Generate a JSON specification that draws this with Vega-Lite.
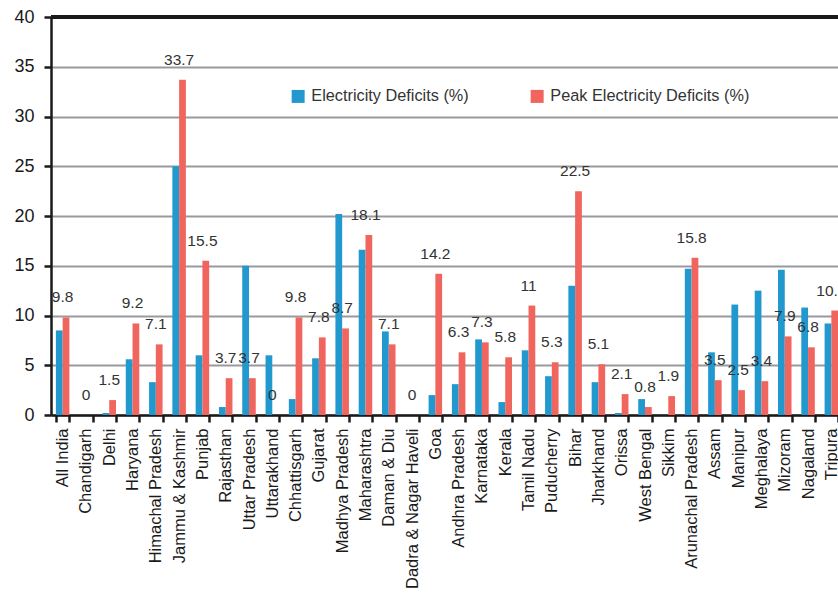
{
  "$schema": "https://vega.github.io/schema/vega-lite/v6.json",
  "width": 792,
  "height": 398,
  "padding": {"left": 13, "top": 8, "right": 0, "bottom": 0},
  "background": "white",
  "config": {
    "font": "Liberation Sans",
    "view": {"stroke": null},
    "axis": {"labelFont": "Liberation Sans", "labelColor": "#1a1a1a", "domainColor": "#1a1a1a", "tickColor": "#1a1a1a", "domainWidth": 2.5, "tickWidth": 2.5, "tickSize": 7, "title": null}
  },
  "data": {
    "values": [
      {"state": "All India", "series": "Electricity Deficits (%)", "value": 8.5},
      {"state": "All India", "series": "Peak Electricity Deficits (%)", "value": 9.8},
      {"state": "Chandigarh", "series": "Electricity Deficits (%)", "value": 0},
      {"state": "Chandigarh", "series": "Peak Electricity Deficits (%)", "value": 0},
      {"state": "Delhi", "series": "Electricity Deficits (%)", "value": 0.2},
      {"state": "Delhi", "series": "Peak Electricity Deficits (%)", "value": 1.5},
      {"state": "Haryana", "series": "Electricity Deficits (%)", "value": 5.6},
      {"state": "Haryana", "series": "Peak Electricity Deficits (%)", "value": 9.2},
      {"state": "Himachal Pradesh", "series": "Electricity Deficits (%)", "value": 3.3},
      {"state": "Himachal Pradesh", "series": "Peak Electricity Deficits (%)", "value": 7.1},
      {"state": "Jammu & Kashmir", "series": "Electricity Deficits (%)", "value": 25},
      {"state": "Jammu & Kashmir", "series": "Peak Electricity Deficits (%)", "value": 33.7},
      {"state": "Punjab", "series": "Electricity Deficits (%)", "value": 6.0},
      {"state": "Punjab", "series": "Peak Electricity Deficits (%)", "value": 15.5},
      {"state": "Rajasthan", "series": "Electricity Deficits (%)", "value": 0.8},
      {"state": "Rajasthan", "series": "Peak Electricity Deficits (%)", "value": 3.7},
      {"state": "Uttar Pradesh", "series": "Electricity Deficits (%)", "value": 15.0},
      {"state": "Uttar Pradesh", "series": "Peak Electricity Deficits (%)", "value": 3.7},
      {"state": "Uttarakhand", "series": "Electricity Deficits (%)", "value": 6.0},
      {"state": "Uttarakhand", "series": "Peak Electricity Deficits (%)", "value": 0},
      {"state": "Chhattisgarh", "series": "Electricity Deficits (%)", "value": 1.6},
      {"state": "Chhattisgarh", "series": "Peak Electricity Deficits (%)", "value": 9.8},
      {"state": "Gujarat", "series": "Electricity Deficits (%)", "value": 5.7},
      {"state": "Gujarat", "series": "Peak Electricity Deficits (%)", "value": 7.8},
      {"state": "Madhya Pradesh", "series": "Electricity Deficits (%)", "value": 20.2},
      {"state": "Madhya Pradesh", "series": "Peak Electricity Deficits (%)", "value": 8.7},
      {"state": "Maharashtra", "series": "Electricity Deficits (%)", "value": 16.6},
      {"state": "Maharashtra", "series": "Peak Electricity Deficits (%)", "value": 18.1},
      {"state": "Daman & Diu", "series": "Electricity Deficits (%)", "value": 8.4},
      {"state": "Daman & Diu", "series": "Peak Electricity Deficits (%)", "value": 7.1},
      {"state": "Dadra & Nagar Haveli", "series": "Electricity Deficits (%)", "value": 0},
      {"state": "Dadra & Nagar Haveli", "series": "Peak Electricity Deficits (%)", "value": 0},
      {"state": "Goa", "series": "Electricity Deficits (%)", "value": 2.0},
      {"state": "Goa", "series": "Peak Electricity Deficits (%)", "value": 14.2},
      {"state": "Andhra Pradesh", "series": "Electricity Deficits (%)", "value": 3.1},
      {"state": "Andhra Pradesh", "series": "Peak Electricity Deficits (%)", "value": 6.3},
      {"state": "Karnataka", "series": "Electricity Deficits (%)", "value": 7.6},
      {"state": "Karnataka", "series": "Peak Electricity Deficits (%)", "value": 7.3},
      {"state": "Kerala", "series": "Electricity Deficits (%)", "value": 1.3},
      {"state": "Kerala", "series": "Peak Electricity Deficits (%)", "value": 5.8},
      {"state": "Tamil Nadu", "series": "Electricity Deficits (%)", "value": 6.5},
      {"state": "Tamil Nadu", "series": "Peak Electricity Deficits (%)", "value": 11},
      {"state": "Puducherry", "series": "Electricity Deficits (%)", "value": 3.9},
      {"state": "Puducherry", "series": "Peak Electricity Deficits (%)", "value": 5.3},
      {"state": "Bihar", "series": "Electricity Deficits (%)", "value": 13.0},
      {"state": "Bihar", "series": "Peak Electricity Deficits (%)", "value": 22.5},
      {"state": "Jharkhand", "series": "Electricity Deficits (%)", "value": 3.3},
      {"state": "Jharkhand", "series": "Peak Electricity Deficits (%)", "value": 5.1},
      {"state": "Orissa", "series": "Electricity Deficits (%)", "value": 0.2},
      {"state": "Orissa", "series": "Peak Electricity Deficits (%)", "value": 2.1},
      {"state": "West Bengal", "series": "Electricity Deficits (%)", "value": 1.6},
      {"state": "West Bengal", "series": "Peak Electricity Deficits (%)", "value": 0.8},
      {"state": "Sikkim", "series": "Electricity Deficits (%)", "value": 0},
      {"state": "Sikkim", "series": "Peak Electricity Deficits (%)", "value": 1.9},
      {"state": "Arunachal Pradesh", "series": "Electricity Deficits (%)", "value": 14.7},
      {"state": "Arunachal Pradesh", "series": "Peak Electricity Deficits (%)", "value": 15.8},
      {"state": "Assam", "series": "Electricity Deficits (%)", "value": 6.3},
      {"state": "Assam", "series": "Peak Electricity Deficits (%)", "value": 3.5},
      {"state": "Manipur", "series": "Electricity Deficits (%)", "value": 11.1},
      {"state": "Manipur", "series": "Peak Electricity Deficits (%)", "value": 2.5},
      {"state": "Meghalaya", "series": "Electricity Deficits (%)", "value": 12.5},
      {"state": "Meghalaya", "series": "Peak Electricity Deficits (%)", "value": 3.4},
      {"state": "Mizoram", "series": "Electricity Deficits (%)", "value": 14.6},
      {"state": "Mizoram", "series": "Peak Electricity Deficits (%)", "value": 7.9},
      {"state": "Nagaland", "series": "Electricity Deficits (%)", "value": 10.8},
      {"state": "Nagaland", "series": "Peak Electricity Deficits (%)", "value": 6.8},
      {"state": "Tripura", "series": "Electricity Deficits (%)", "value": 9.2},
      {"state": "Tripura", "series": "Peak Electricity Deficits (%)", "value": 10.5}
    ]
  },
  "encoding": {
    "x": {
      "field": "state", "type": "nominal", "sort": null,
      "scale": {"paddingInner": 0.42, "paddingOuter": 0.21},
      "axis": {"labelAngle": -90, "labelAlign": "right", "labelBaseline": "middle", "labelFontSize": 16.5, "labelPadding": 6, "tickBand": "extent", "grid": false, "labelOverlap": false, "labelLimit": 0}
    }
  },
  "layer": [
    {
      "mark": {"type": "bar"},
      "encoding": {
        "y": {
          "field": "value", "type": "quantitative",
          "scale": {"domain": [0, 40], "nice": false},
          "axis": {"values": [0, 5, 10, 15, 20, 25, 30, 35, 40], "labelFontSize": 18, "labelPadding": 10, "grid": true, "gridColor": "#9a9a9e", "gridWidth": 2, "gridOpacity": 1}
        },
        "xOffset": {"field": "series", "type": "nominal", "scale": {"paddingInner": 0, "paddingOuter": 0}},
        "color": {
          "field": "series", "type": "nominal",
          "scale": {"range": ["#2299CE", "#F1655F"]},
          "legend": {
            "title": null, "orient": "none", "legendX": 239, "legendY": 71, "direction": "horizontal",
            "symbolType": "square", "symbolSize": 169, "symbolStrokeWidth": 0, "symbolOpacity": 1,
            "labelFontSize": 16.3, "labelColor": "#333333", "labelOffset": 5, "labelLimit": 0, "columnPadding": 60, "padding": 0
          }
        }
      }
    },
    {
      "mark": {"type": "rule", "color": "#1a1a1a", "strokeWidth": 2.5},
      "encoding": {"y": {"datum": 40, "type": "quantitative"}, "x": {"value": 0}, "x2": {"value": 792}}
    },
    {
      "transform": [{"filter": "datum.series === 'Peak Electricity Deficits (%)'"}],
      "mark": {"type": "text", "fontSize": 15.5, "color": "#333333", "baseline": "middle", "dy": -20},
      "encoding": {
        "y": {"field": "value", "type": "quantitative"},
        "text": {"field": "value", "type": "quantitative"}
      }
    }
  ]
}
